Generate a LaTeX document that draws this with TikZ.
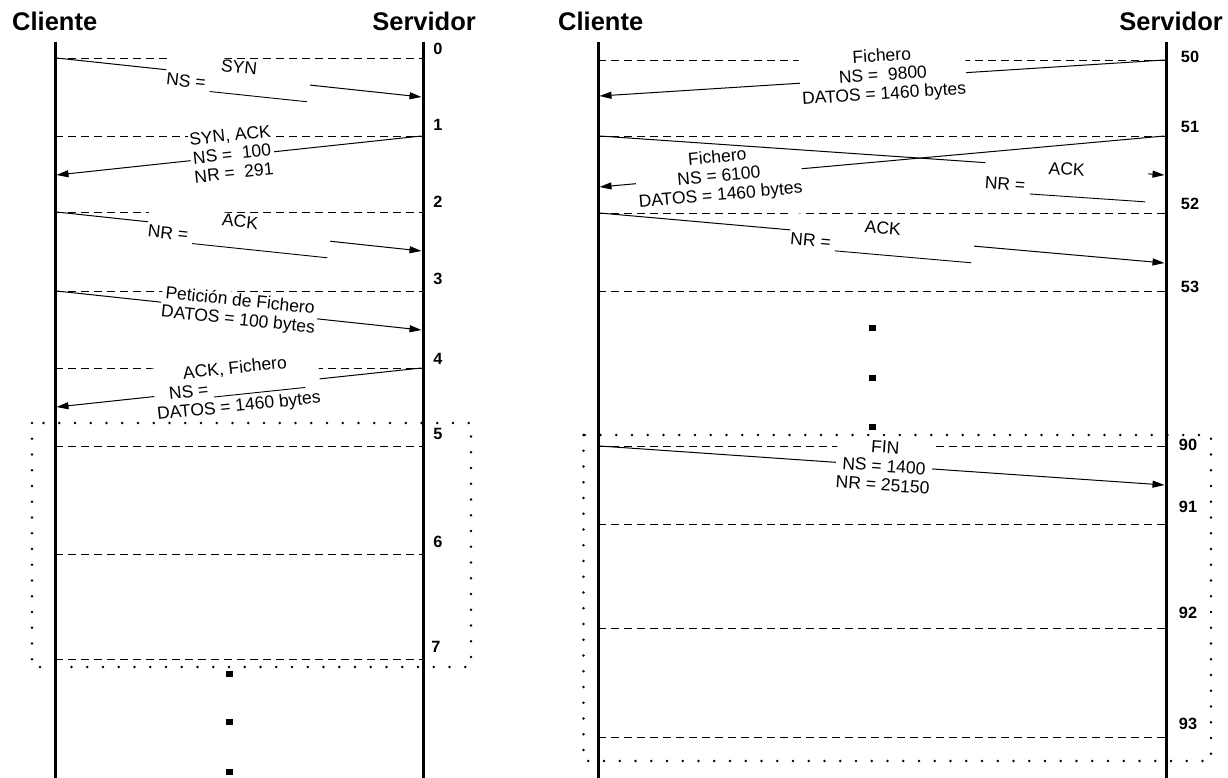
\documentclass[tikz,border=0pt]{standalone}
\usepackage{fontspec}
\setmainfont{Liberation Sans}
\usetikzlibrary{arrows.meta}
\newcommand\lblfont{\fontsize{17.5}{19}\selectfont}
\newcommand\ttlfont{\fontsize{25.5}{28}\selectfont\bfseries}
\newcommand\numfont{\fontsize{16.3}{18}\selectfont\bfseries}
\newcommand\blank[1]{\rule[-2.5pt]{#1pt}{0.9pt}}
\begin{document}
\begin{tikzpicture}[x=1pt,y=-1pt,
  life/.style={line width=3pt},
  tick/.style={line width=0.9pt, dash pattern=on 8pt off 5pt},
  msg/.style={line width=1pt, -{Triangle[length=12pt,width=7pt]}},
  lbl/.style={fill=white, inner sep=1pt, font=\lblfont, align=center},
  num/.style={font=\numfont, inner sep=0pt},
  ttl/.style={font=\ttlfont, inner sep=0pt},
  frame/.style={line width=2.8pt, dash pattern=on 0pt off 15.75pt, line cap=round},
  sq/.style={fill=black, minimum width=7pt, minimum height=6pt, inner sep=0pt}]
\useasboundingbox (0,0) rectangle (1228,778);

% ---------- titles
\node[ttl, anchor=base west] (cl1) at (12,31) {Cliente};
\node[ttl, anchor=base east] (sv1) at (476,31) {Servidor};
\node[ttl, anchor=base west] (cl2) at (558,31) {Cliente};
\node[ttl, anchor=base east] (sv2) at (1223,31) {Servidor};

% ---------- lifelines
\coordinate (L1t) at (55,42);   \coordinate (L1b) at (55,778);
\coordinate (S1t) at (423,42);  \coordinate (S1b) at (423,778);
\coordinate (L2t) at (598,42);  \coordinate (L2b) at (598,778);
\coordinate (S2t) at (1166,42); \coordinate (S2b) at (1166,778);

% ---------- time ticks (dashed)
\foreach \y in {58,136,212,291,368,446,554,659}
  \draw[tick] (55,\y) -- (423,\y);
\foreach \y in {60,136,213,291,446,524,628,737}
  \draw[tick] (598,\y) -- (1166,\y);

% ---------- tick numbers
\node[num] (n0) at (438,49) {0};
\node[num] (n1) at (438,125) {1};
\node[num] (n2) at (438,202) {2};
\node[num] (n3) at (438,279) {3};
\node[num] (n4) at (438,359) {4};
\node[num] (n5) at (438,434) {5};
\node[num] (n6) at (438,542) {6};
\node[num] (n7) at (436,647) {7};
\node[num] (n50) at (1190,57) {50};
\node[num] (n51) at (1190,127) {51};
\node[num] (n52) at (1190,204) {52};
\node[num] (n53) at (1190,287) {53};
\node[num] (n90) at (1188,445) {90};
\node[num] (n91) at (1188,507) {91};
\node[num] (n92) at (1188,613) {92};
\node[num] (n93) at (1188,724) {93};

% ---------- message end points
\coordinate (a1s) at (56.5,58);   \coordinate (a1e) at (421.5,97);
\coordinate (a2s) at (421.5,136); \coordinate (a2e) at (56.5,175);
\coordinate (a3s) at (56.5,212);  \coordinate (a3e) at (421.5,251);
\coordinate (a4s) at (56.5,291);  \coordinate (a4e) at (421.5,330);
\coordinate (a5s) at (421.5,368); \coordinate (a5e) at (56.5,407);
\coordinate (b1s) at (1164.5,60);  \coordinate (b1e) at (599.5,96);
\coordinate (b2s) at (1164.5,136); \coordinate (b2e) at (599.5,187);
\coordinate (b3s) at (599.5,136);  \coordinate (b3e) at (1164.5,175);
\coordinate (b4s) at (599.5,213);  \coordinate (b4e) at (1164.5,263);
\coordinate (b5s) at (599.5,446);  \coordinate (b5e) at (1164.5,485);

% ---------- messages
\draw[msg] (a1s) -- (a1e);
\draw[msg] (a2s) -- (a2e);
\draw[msg] (a3s) -- (a3e);
\draw[msg] (a4s) -- (a4e);
\draw[msg] (a5s) -- (a5e);
\draw[msg] (b1s) -- (b1e);
\draw[msg] (b2s) -- (b2e);
\draw[msg] (b4s) -- (b4e);
\draw[msg] (b5s) -- (b5e);

% ---------- labels
\node[lbl, rotate=-6] (t1) at (238,78) {SYN\\NS = \blank{98}};
\node[lbl, rotate=6] (t2) at (232,154) {SYN, ACK\\NS =\ \ 100\\NR =\ \ 291};
\node[lbl, rotate=-6] (t3) at (239,232) {ACK\\NR = \blank{136}};
\node[lbl, rotate=-6] (t4) at (239,311) {Petición de Fichero\\DATOS = 100 bytes};
\node[lbl, rotate=6] (t5) at (237,388) {ACK, Fichero\\NS = \blank{92}\\DATOS = 1460 bytes};

\node[lbl, rotate=3.6] (u1) at (883,76) {Fichero\\NS =\ \ 9800\\DATOS = 1460 bytes};
\node[lbl, rotate=5.1] (u2) at (719,177) {Fichero\\NS = 6100\\DATOS = 1460 bytes};
% the ACK crossing runs above the Fichero label
\draw[msg] (b3s) -- (b3e);
\node[lbl, rotate=-3.9] (u3) at (1066,180) {ACK\\NR = \blank{116}};
\node[lbl, rotate=-5] (u4) at (882,238.5) {ACK\\NR = \blank{137}};
\node[lbl, rotate=-3.9] (u5) at (884,466) {FIN\\NS = 1400\\NR = 25150};

% ---------- lifelines on top
\draw[life] (L1t) -- (L1b);
\draw[life] (S1t) -- (S1b);
\draw[life] (L2t) -- (L2b);
\draw[life] (S2t) -- (S2b);

% ---------- continuation squares
\node[sq] (d1) at (229.5,674) {};
\node[sq] (d2) at (229.5,722) {};
\node[sq] (d3) at (229.5,772) {};
\node[sq] (e1) at (872,328) {};
\node[sq] (e2) at (872,378) {};
\node[sq] (e3) at (872,427) {};

% ---------- dotted frames
\draw[frame] (32,423) rectangle (471,667);
\draw[frame] (583.5,435) rectangle (1211,761);
\end{tikzpicture}
\end{document}
